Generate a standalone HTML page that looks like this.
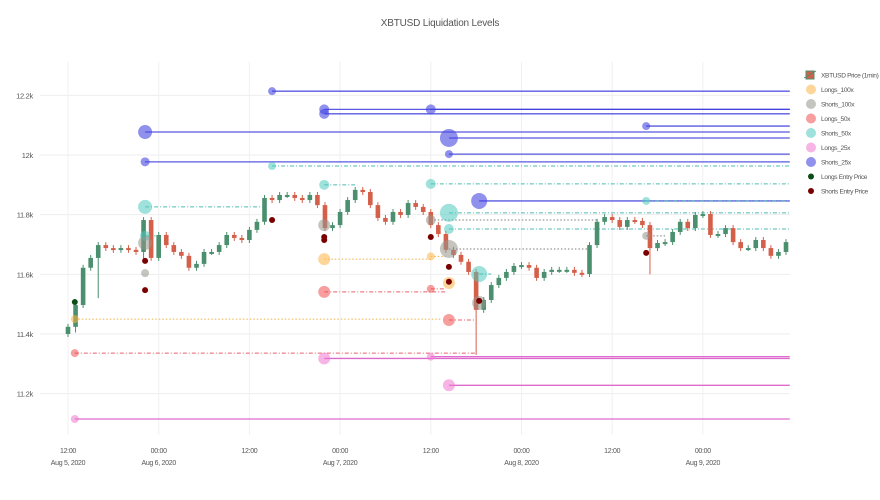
<!DOCTYPE html>
<html><head><meta charset="utf-8"><style>
body{margin:0;background:#fff;font-family:"Liberation Sans",sans-serif;}
svg text{font-family:"Liberation Sans",sans-serif;fill:#555;}
</style></head><body>
<svg id="chart" width="880" height="495" xmlns="http://www.w3.org/2000/svg">
<rect width="880" height="495" fill="#fff"/>
<text x="440" y="26" text-anchor="middle" font-size="10" fill="#444" style="letter-spacing:-0.2px">XBTUSD Liquidation Levels</text>
<g id="grid"></g>
<g id="levels"></g>
<g id="candles"></g>
<g id="markers"></g>
<g id="axes"></g>
<g id="legend"></g>
</svg>
<script>
// price closes, hourly from Aug 5 12:00 (hours since Aug 5 00:00)
const priceStartHour = 12;
const closes = [11424,11497,11622,11655,11698,11688,11682,11688,11682,11675,11782,11655,11732,11698,11675,11662,11622,11635,11675,11675,11698,11732,11722,11715,11749,11776,11856,11849,11866,11866,11856,11849,11866,11832,11755,11765,11809,11849,11883,11876,11832,11789,11776,11809,11799,11839,11826,11809,11765,11735,11682,11665,11642,11608,11481,11514,11564,11588,11608,11628,11631,11622,11588,11608,11615,11615,11615,11605,11601,11698,11776,11792,11782,11759,11782,11779,11765,11688,11705,11708,11742,11776,11755,11799,11802,11732,11735,11755,11708,11688,11688,11715,11688,11662,11675,11708];
const firstOpen = 11400;
const spikeHours = [13, 16, 22, 24, 66, 89, 38];
const spikeLows = [11405, 11520, 11650, 11790, 11330, 11600, 11770];
// liquidation levels
const levelTypes = ['S25','S25','S25','S25','S25','S25','S25','S25','S25','S25',
 'S50','S50','S50','S50','S50','S50','S50','S50','S50',
 'S100','S100','S100','S100','S100','S100','S100',
 'L100','L100','L100','L100',
 'L50','L50','L50','L50',
 'L25','L25','L25','L25'];
const levelHours = [39,22.2,22.2,45.9,45.9,60,62.4,62.4,66.4,88.5,
 39,22.2,22.2,45.9,60,62.4,62.4,66.4,88.5,
 22.2,22.2,45.9,60,62.4,66.4,88.5,
 12.9,45.9,60,62.4,
 12.9,45.9,60,62.4,
 12.9,45.9,60,62.4];
const levelPrices = [12214,12077,11977,12153,12138,12153,12057,12003,11846,12097,
 11963,11826,11729,11900,11903,11806,11752,11601,11846,
 11705,11604,11765,11782,11685,11504,11729,
 11450,11651,11660,11571,
 11336,11541,11551,11447,
 11115,11318,11324,11228];
const levelSizes = [4,7,4.5,5,5,5,9,4,8,4,
 4,7,5,5,5,9,5,8,4,
 7,4,6,5,9,7,4,
 4,6,4,6,
 4,6,4,6,
 4,6,4,6];
const levelEndHours = [107.5,107.5,107.5,107.5,107.5,107.5,107.5,107.5,107.5,107.5,
 107.5,38,23.6,50.3,107.5,107.5,107.5,68,107.5,
 22.2,22.2,45.9,82,81,66.4,91,
 61.5,60,62,62.4,
 66,62,62,66,
 107.5,107.5,107.5,107.5];
const longEntryHours = [12.9];
const longEntryPrices = [11507];
const shortEntryHours = [22.2,22.2,39,45.9,45.9,60,62.4,62.4,66.4,88.5];
const shortEntryPrices = [11645,11547,11782,11725,11715,11725,11625,11575,11511,11672];
const yTicks = [11200,11400,11600,11800,12000,12200];
const yTickLabels = ['11.2k','11.4k','11.6k','11.8k','12k','12.2k'];
const xTickHours = [12,24,36,48,60,72,84,96];
const xTickTimes = ['12:00','00:00','12:00','00:00','12:00','00:00','12:00','00:00'];
const xTickDates = ['Aug 5, 2020','Aug 6, 2020','','Aug 7, 2020','','Aug 8, 2020','','Aug 9, 2020'];
const legendLabels = ['XBTUSD Price (1min)','Longs_100x','Shorts_100x','Longs_50x','Shorts_50x','Longs_25x','Shorts_25x','Longs Entry Price','Shorts Entry Price'];

const NS='http://www.w3.org/2000/svg';
const X0=40, X1=790;
function xs(h){return 68+(h-12)*7.558;}
function ys(v){return 155+(12000-v)*0.2983;}
const style={
 S25:{fill:'rgba(70,70,225,0.6)',stroke:'rgba(60,60,220,0.85)',dash:''},
 S50:{fill:'rgba(80,200,190,0.55)',stroke:'rgba(60,180,170,0.9)',dash:'4,2,1,2'},
 S100:{fill:'rgba(150,150,140,0.55)',stroke:'rgba(110,110,110,0.9)',dash:'1.5,2'},
 L100:{fill:'rgba(255,180,70,0.55)',stroke:'rgba(240,170,50,0.9)',dash:'1.5,2'},
 L50:{fill:'rgba(240,80,80,0.55)',stroke:'rgba(230,80,90,0.9)',dash:'4,2,1,2'},
 L25:{fill:'rgba(240,120,210,0.55)',stroke:'rgba(220,90,200,0.9)',dash:''}
};
function mk(tag,attrs,parent){const e=document.createElementNS(NS,tag);for(const k in attrs)e.setAttribute(k,attrs[k]);parent.appendChild(e);return e;}
const grid=document.getElementById('grid'),axes=document.getElementById('axes');
yTicks.forEach((v,i)=>{
 const l=mk('line',{x1:X0,x2:X1,y1:ys(v),y2:ys(v),stroke:'#eee','stroke-width':1},grid);
 
 
 const t=mk('text',{x:33,y:ys(v)+3,'text-anchor':'end','font-size':7.5,style:'letter-spacing:-0.3px'},axes);
 t.textContent=yTickLabels[i];
 
 
});
xTickHours.forEach((h,i)=>{
 const l=mk('line',{x1:xs(h),x2:xs(h),y1:62,y2:435,stroke:'#f0f0f0','stroke-width':1},grid);
 
 
 const t=mk('text',{x:xs(h),y:453,'text-anchor':'middle','font-size':7,style:'letter-spacing:-0.3px'},axes);
 t.textContent=xTickTimes[i];
 
 
 if(xTickDates[i]){const d=mk('text',{x:xs(h),y:465,'text-anchor':'middle','font-size':7,style:'letter-spacing:-0.3px'},axes);
 d.textContent=xTickDates[i];
 
 }
});
const lv=document.getElementById('levels'),mg=document.getElementById('markers');
levelTypes.forEach((t,i)=>{
 const s=style[t];const y=ys(levelPrices[i]);
 if(levelEndHours[i]>levelHours[i]){
  const l=mk('line',{x1:xs(levelHours[i]),x2:xs(levelEndHours[i]),y1:y,y2:y,stroke:s.stroke,'stroke-width':s.dash?1:1.3,'stroke-dasharray':s.dash},lv);
  
  
 }
 const c=mk('circle',{cx:xs(levelHours[i]),cy:y,r:levelSizes[i],fill:s.fill},mg);
 
 
});
const cg=document.getElementById('candles');
let prev=firstOpen;
closes.forEach((c,i)=>{
 const h=priceStartHour+i;const o=prev;prev=c;
 let hi=Math.max(o,c)+10, lo=Math.min(o,c)-10;
 const si=spikeHours.indexOf(h); if(si>=0) lo=Math.min(lo,spikeLows[si]);
 const up=c>=o;const col=up?'#4a8f6e':'#d4604a';
 const x=xs(h);
 const w=mk('line',{x1:x,x2:x,y1:ys(hi),y2:ys(lo),stroke:col,'stroke-width':1},cg);
 
 
 const r=mk('rect',{x:x-2.3,y:ys(Math.max(o,c)),width:4.6,height:Math.max(2,Math.abs(ys(o)-ys(c))),fill:col},cg);
 
 
});
longEntryHours.forEach((h,i)=>{const c=mk('circle',{cx:xs(h),cy:ys(longEntryPrices[i]),r:3,fill:'#0b4d16'},mg);
 
 });
shortEntryHours.forEach((h,i)=>{const c=mk('circle',{cx:xs(h),cy:ys(shortEntryPrices[i]),r:3,fill:'#7a0000'},mg);
 
 });
const lg=document.getElementById('legend');
const legFill=[null,style.L100.fill,style.S100.fill,style.L50.fill,style.S50.fill,style.L25.fill,style.S25.fill,'#0b4d16','#7a0000'];
legendLabels.forEach((lab,i)=>{
 const y=75+i*14.5;
 const g=mk('g',{},lg);
 
 
 if(i===0){mk('rect',{x:806,y:y-4,width:8,height:8,fill:'#d4604a',stroke:'#4a8f6e'},g);mk('line',{x1:804,x2:816,y1:y+3,y2:y-4,stroke:'#4a8f6e'},g);}
 else mk('circle',{cx:811,cy:y,r:i>=7?3:5,fill:legFill[i]},g);
 const t=mk('text',{x:821,y:y+2.5,'font-size':6.6,style:'letter-spacing:-0.35px'},g);t.textContent=lab;
});
</script>
</body></html>
